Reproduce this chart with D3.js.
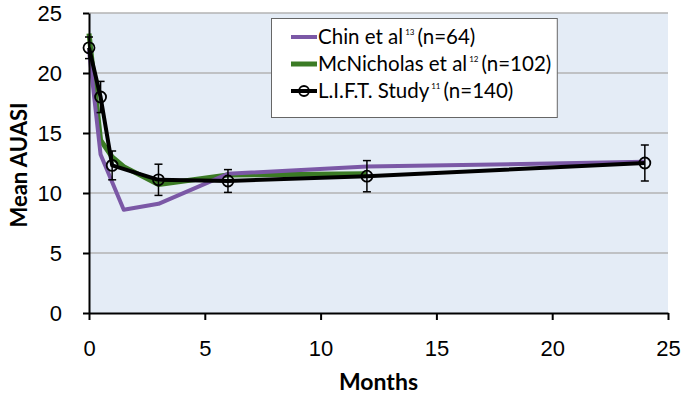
<!DOCTYPE html>
<html lang="en">
<head>
  <meta charset="UTF-8">
  <title>Mean AUASI</title>
  <style>
    html, body { margin: 0; padding: 0; background: #fff; }
    svg { display: block; font-family: Lato, "Open Sans", sans-serif; }
    .axis path, .axis line { stroke: #000; stroke-width: 2; }
    .axis text { font-size: 22px; fill: #000; }
    .grid line { stroke: #b3b3b3; stroke-width: 1.5; }
    .title { font-size: 22px; font-weight: bold; text-anchor: middle; }
    .legend text { font-size: 20.5px; }
    .legend .sup { font-size: 8px; }
  </style>
  <script src="https://cdn.jsdelivr.net/npm/d3@7"></script>
</head>
<body>
<script>
  // ---- data ----
  const chinMonths = [0, 0.5, 1.5, 3, 6, 12, 24];
  const chinValues = [21.9, 13.2, 8.6, 9.1, 11.6, 12.2, 12.6];

  const mcnMonths = [0, 0.5, 1, 1.5, 3, 6, 12];
  const mcnValues = [23.3, 14.4, 13.0, 12.2, 10.7, 11.5, 11.6];

  const liftMonths = [0, 0.5, 1, 3, 6, 12, 24];
  const liftValues = [22.1, 18.0, 12.3, 11.1, 11.0, 11.4, 12.5];
  const liftErrors = [0.9, 1.3, 1.2, 1.3, 0.95, 1.3, 1.5];

  const xTicks = [0, 5, 10, 15, 20, 25];
  const yTicks = [0, 5, 10, 15, 20, 25];

  const legendNames = ['Chin et al', 'McNicholas et al', 'L.I.F.T. Study'];
  const legendRefs = ['13', '12', '11'];
  const legendNs = ['(n=64)', '(n=102)', '(n=140)'];

  const width = 682;
  const height = 396;
  const padLeft = 89, padRight = 14, padTop = 13, padBottom = 83;

  const purple = '#7b58a6';
  const green = '#3b7b25';

  const xScale = d3.scaleLinear().domain([0, 25]).range([padLeft, width - padRight]);
  const yScale = d3.scaleLinear().domain([0, 25]).range([height - padBottom, padTop]);

  const svg = d3.select('body').append('svg')
    .attr('width', width)
    .attr('height', height);

  // plot background
  svg.append('rect')
    .attr('x', xScale(0))
    .attr('y', yScale(25))
    .attr('width', xScale(25) - xScale(0))
    .attr('height', yScale(0) - yScale(25))
    .attr('fill', '#e4ecf6');

  // horizontal grid
  svg.append('g')
    .attr('class', 'grid')
    .selectAll('line')
    .data(yTicks.filter(d => d > 0))
    .enter()
    .append('line')
    .attr('x1', xScale(0))
    .attr('x2', xScale(25))
    .attr('y1', d => yScale(d))
    .attr('y2', d => yScale(d));

  const line = d3.line()
    .x(d => xScale(d[0]))
    .y(d => yScale(d[1]));

  // series
  svg.append('path')
    .datum(mcnMonths.map((m, i) => [m, mcnValues[i]]))
    .attr('d', line)
    .attr('fill', 'none')
    .attr('stroke', green)
    .attr('stroke-width', 5)
    .attr('stroke-linejoin', 'round');

  svg.append('path')
    .datum(chinMonths.map((m, i) => [m, chinValues[i]]))
    .attr('d', line)
    .attr('fill', 'none')
    .attr('stroke', purple)
    .attr('stroke-width', 4)
    .attr('stroke-linejoin', 'round');

  const lift = liftMonths.map((m, i) => ({ m: m, v: liftValues[i], e: liftErrors[i] }));

  svg.append('path')
    .datum(lift.map(d => [d.m, d.v]))
    .attr('d', line)
    .attr('fill', 'none')
    .attr('stroke', '#000')
    .attr('stroke-width', 4)
    .attr('stroke-linejoin', 'round');

  // error bars
  const err = svg.append('g')
    .selectAll('g')
    .data(lift)
    .enter()
    .append('g')
    .attr('stroke', '#000')
    .attr('stroke-width', 1.5);
  err.append('line')
    .attr('x1', d => xScale(d.m)).attr('x2', d => xScale(d.m))
    .attr('y1', d => yScale(d.v + d.e)).attr('y2', d => yScale(d.v - d.e));
  err.append('line')
    .attr('x1', d => xScale(d.m) - 4).attr('x2', d => xScale(d.m) + 4)
    .attr('y1', d => yScale(d.v + d.e)).attr('y2', d => yScale(d.v + d.e));
  err.append('line')
    .attr('x1', d => xScale(d.m) - 4).attr('x2', d => xScale(d.m) + 4)
    .attr('y1', d => yScale(d.v - d.e)).attr('y2', d => yScale(d.v - d.e));

  svg.append('g')
    .selectAll('circle')
    .data(lift)
    .enter()
    .append('circle')
    .attr('cx', d => xScale(d.m))
    .attr('cy', d => yScale(d.v))
    .attr('r', 5.5)
    .attr('fill', 'none')
    .attr('stroke', '#000')
    .attr('stroke-width', 1.8);

  // axes
  svg.append('g')
    .attr('class', 'axis')
    .attr('transform', `translate(0,${yScale(0)})`)
    .call(d3.axisBottom(xScale).tickValues(xTicks).tickSize(7).tickPadding(20).tickSizeOuter(0));

  svg.append('g')
    .attr('class', 'axis')
    .attr('transform', `translate(${xScale(0)},0)`)
    .call(d3.axisLeft(yScale).tickValues(yTicks).tickSize(6).tickPadding(21).tickSizeOuter(0));

  // titles
  svg.append('text')
    .attr('class', 'title')
    .style('font-size', '23px')
    .attr('x', (xScale(0) + xScale(25)) / 2)
    .attr('y', 390)
    .text('Months');

  svg.append('text')
    .attr('class', 'title')
    .attr('transform', `translate(27,${(yScale(0) + yScale(25)) / 2 + 2}) rotate(-90)`)
    .text('Mean AUASI');

  // legend
  const legend = svg.append('g').attr('class', 'legend');
  const legendBox = legend.append('rect')
    .attr('x', 271.5)
    .attr('y', 18.5)
    .attr('height', 99)
    .attr('fill', '#fff')
    .attr('stroke', '#666')
    .attr('stroke-width', 1);

  const rowY = [37, 64, 91];
  const rowColors = [purple, green, '#000'];
  let maxRight = 0;
  legendNames.forEach((name, i) => {
    legend.append('line')
      .attr('x1', 291).attr('x2', 317)
      .attr('y1', rowY[i]).attr('y2', rowY[i])
      .attr('stroke', rowColors[i])
      .attr('stroke-width', i === 1 ? 5 : 4);
    if (i === 2) {
      legend.append('circle')
        .attr('cx', 304).attr('cy', rowY[i]).attr('r', 5)
        .attr('fill', 'none').attr('stroke', '#000').attr('stroke-width', 1.8);
    }
    const t = legend.append('text')
      .attr('x', 318)
      .attr('y', rowY[i])
      .attr('dy', '0.35em');
    t.append('tspan').text(name);
    t.append('tspan').attr('class', 'sup').attr('dy', -9).attr('dx', 2).text(legendRefs[i]);
    t.append('tspan').attr('dy', 9).attr('dx', 3).text(legendNs[i]);
    const b = t.node().getBBox();
    maxRight = Math.max(maxRight, b.x + b.width);
  });
  legendBox.attr('width', maxRight + 6 - 271.5);
</script>
</body>
</html>
